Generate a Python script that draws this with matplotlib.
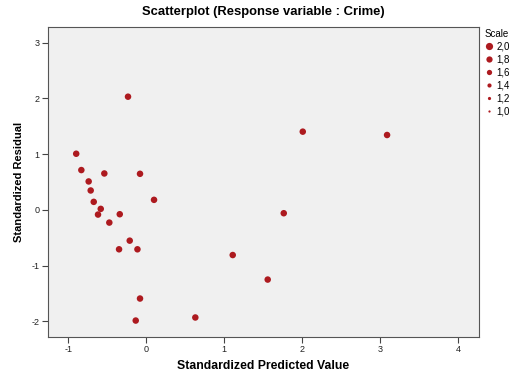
import matplotlib
matplotlib.use("Agg")
import matplotlib.pyplot as plt
from matplotlib.lines import Line2D

plt.rcParams['font.family'] = ['Liberation Sans', 'DejaVu Sans']
plt.rcParams['axes.unicode_minus'] = False

# Standardized predicted values and residuals
pred = [-0.235, -0.90, -0.834, -0.539, -0.081, -0.74, -0.714, 0.099, -0.675, -0.585,
        -0.62, -0.341, -0.475, -0.213, -0.35, -0.114, 1.109, -0.081, -0.136, 0.629,
        2.008, 3.09, 1.764, 1.558]
resid = [2.03, 1.007, 0.714, 0.653, 0.647, 0.51, 0.348, 0.18, 0.144, 0.018,
         -0.084, -0.078, -0.228, -0.552, -0.707, -0.707, -0.81, -1.59, -1.985, -1.93,
         1.403, 1.343, -0.06, -1.25]

xticks = [-1, 0, 1, 2, 3, 4]
yticks = [-2, -1, 0, 1, 2, 3]
scale_labels = ["2,0", "1,8", "1,6", "1,4", "1,2", "1,0"]
scale_sizes = [5.2, 4.5, 3.8, 3.0, 2.3, 1.6]

point_color = "#ad1a1f"

fig = plt.figure(figsize=(5.12, 3.71), dpi=100)
ax = fig.add_axes([48/512, 1-337/371, (479-48)/512, (337-27)/371])
ax.set_facecolor("#f0f0f0")

ax.scatter(pred, resid, s=22, color=point_color, edgecolors="none", zorder=3)

ax.set_xlim(-1.262, 4.27)
ax.set_ylim(-2.28, 3.28)
ax.set_xticks(xticks)
ax.set_yticks(yticks)
ax.tick_params(direction="out", length=4, width=0.8, labelsize=6.5, color="#444444",
               labelcolor="#222222", pad=2)
for sp in ax.spines.values():
    sp.set_color("#555555")
    sp.set_linewidth(0.8)

ax.set_title("Scatterplot (Response variable : Crime)", fontsize=9.4, fontweight="bold", pad=9)
ax.set_xlabel("Standardized Predicted Value", fontsize=8.8, fontweight="bold")
ax.set_ylabel("Standardized Residual", fontsize=8.0, fontweight="bold")
ax.xaxis.set_label_coords(0.5, -0.075)
ax.yaxis.set_label_coords(-0.056, 0.5)

handles = [Line2D([], [], linestyle="none", marker="o", markersize=s,
                  markerfacecolor=point_color, markeredgecolor="none")
           for s in scale_sizes]
leg = fig.legend(handles, scale_labels, title="Scale", loc="upper left",
                 bbox_to_anchor=(483/512, 1-27/371), frameon=False, fontsize=7,
                 title_fontsize=7, handlelength=0.8, handletextpad=0.4,
                 labelspacing=0.3, borderaxespad=0, borderpad=0.2)
leg._legend_box.align = "left"

fig.savefig("out.png", dpi=100, facecolor="white")
